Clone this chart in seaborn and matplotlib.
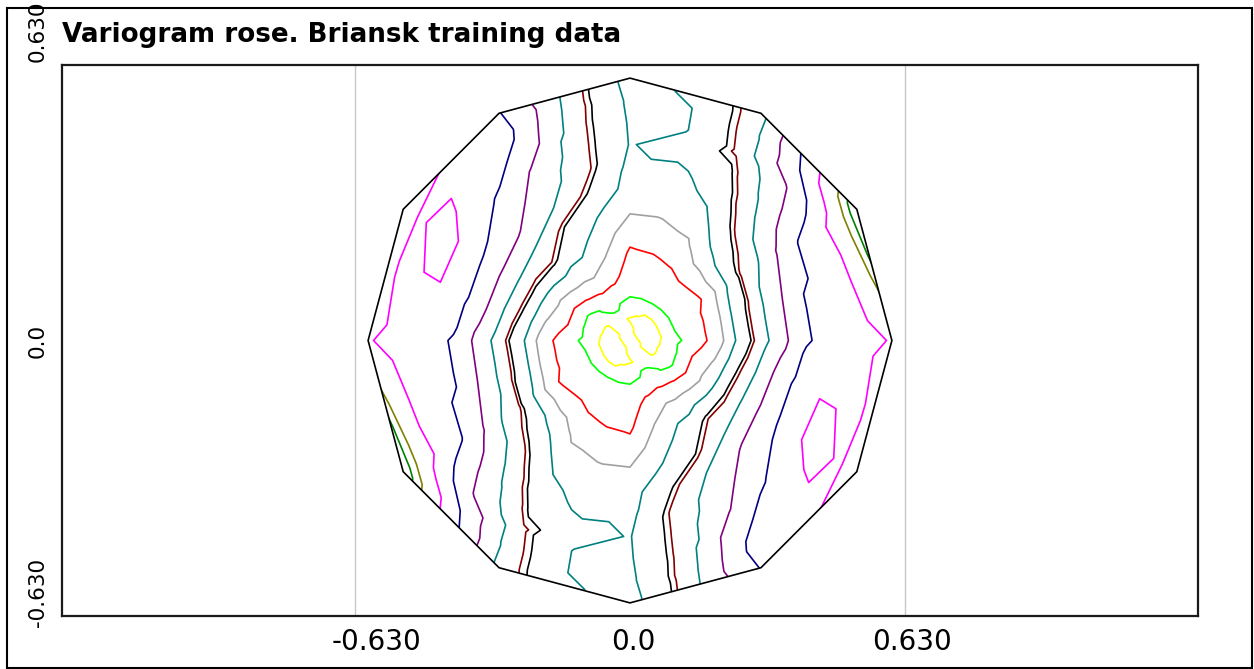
import numpy as np
import matplotlib
matplotlib.use("Agg")
import matplotlib.pyplot as plt
import matplotlib.tri as mtri
import matplotlib.transforms as mtrans
from matplotlib.patches import Polygon, Rectangle
import seaborn as sns

# ---------------------------------------------------------------
# Variogram rose: semivariance by direction (azimuth, degrees
# clockwise from north) and lag distance.  gamma(h) = gamma(-h),
# so each azimuth row also describes the opposite direction.
# Values are in relative semivariance units.
# ---------------------------------------------------------------
lags = [0.05, 0.10, 0.15, 0.20, 0.25, 0.30, 0.35, 0.40, 0.45, 0.50, 0.55, 0.60]
azimuths = [0, 15, 30, 45, 60, 75, 90, 105, 120, 135, 150, 165]

gamma_origin = 1.30
gamma_az000 = [0.95, 2.00, 2.43, 2.84, 3.43, 4.15, 4.60, 4.75, 4.95, 4.90, 4.80, 4.60]
gamma_az015 = [0.80, 2.02, 2.48, 2.94, 3.60, 4.13, 4.45, 4.72, 5.35, 4.95, 5.00, 5.10]
gamma_az030 = [0.45, 2.05, 2.58, 3.10, 3.76, 4.38, 4.97, 5.41, 5.85, 6.33, 6.55, 6.70]
gamma_az045 = [0.40, 2.00, 2.60, 3.35, 4.62, 5.59, 6.35, 6.94, 7.41, 7.88, 9.00, 9.68]
gamma_az060 = [0.40, 1.97, 2.50, 3.15, 4.86, 6.37, 7.15, 8.24, 9.11, 9.67, 10.57, 12.00]
gamma_az075 = [0.40, 1.95, 2.55, 3.50, 5.39, 6.66, 7.73, 8.90, 9.33, 9.70, 10.32, 12.00]
gamma_az090 = [0.55, 1.72, 2.48, 3.46, 5.29, 6.59, 7.70, 8.87, 9.25, 9.52, 9.85, 10.05]
gamma_az105 = [0.70, 1.71, 3.09, 4.13, 5.87, 7.10, 8.40, 9.32, 9.95, 9.90, 9.90, 10.50]
gamma_az120 = [0.75, 1.65, 3.08, 4.43, 6.05, 7.24, 8.36, 9.21, 9.97, 10.35, 9.90, 10.30]
gamma_az135 = [1.60, 2.08, 3.46, 4.76, 6.15, 6.90, 7.94, 8.55, 9.10, 9.55, 9.70, 10.05]
gamma_az150 = [1.70, 2.36, 3.67, 4.74, 5.42, 6.00, 7.00, 7.48, 7.93, 8.76, 9.15, 9.05]
gamma_az165 = [1.05, 2.32, 3.33, 3.93, 4.51, 5.12, 5.90, 6.40, 6.50, 6.60, 6.75, 6.85]

gamma_rows = [gamma_az000, gamma_az015, gamma_az030, gamma_az045,
              gamma_az060, gamma_az075, gamma_az090, gamma_az105,
              gamma_az120, gamma_az135, gamma_az150, gamma_az165]

# isolines and their colours
contour_levels = [1.0, 2.0, 3.0, 4.0, 5.0, 6.0, 6.2, 7.0, 8.0, 9.0, 10.0, 11.0, 11.5]
contour_colors = ["#FFFF00", "#00FF00", "#FF0000", "#A0A0A0", "#008080",
                  "#000000", "#800000", "#008080", "#800080", "#000080",
                  "#FF00FF", "#808000", "#008000"]

title = "Variogram rose. Briansk training data"
axis_extent = 0.63
tick_values = [-0.63, 0.0, 0.63]
tick_labels = ["-0.630", "0.0", "0.630"]
n_sectors = 12

# ---------------------------------------------------------------
sns.set_style("white")
plt.rcParams["font.family"] = ["DejaVu Sans"]
for key in ("text.color", "xtick.color", "ytick.color", "axes.labelcolor"):
    plt.rcParams[key] = "black"

W, H = 1254, 669
fig = plt.figure(figsize=(W / 100, H / 100), dpi=100)
ax = fig.add_axes([62 / W, 1 - 616 / H, 1136 / W, 551 / H])

# build the polar sample grid (both half-planes) and triangulate it
full_az = list(azimuths) + [a + 180 for a in azimuths]
full_rows = gamma_rows + gamma_rows
lag_arr = np.asarray(lags)
xs, ys, zs = [0.0], [0.0], [gamma_origin]
for az, row in zip(full_az, full_rows):
    t = np.deg2rad(az)
    xs.extend(lag_arr * np.sin(t))
    ys.extend(lag_arr * np.cos(t))
    zs.extend(row)
xs, ys, zs = map(np.asarray, (xs, ys, zs))

n_dir, n_lag = len(full_az), len(lags)


def idx(d, k):
    return 1 + d * n_lag + k


tris = []
for d in range(n_dir):
    dn = (d + 1) % n_dir
    tris.append((0, idx(d, 0), idx(dn, 0)))
    for k in range(n_lag - 1):
        tris.append((idx(d, k), idx(dn, k), idx(dn, k + 1)))
        tris.append((idx(d, k), idx(dn, k + 1), idx(d, k + 1)))
triang = mtri.Triangulation(xs, ys, np.asarray(tris))

# outline of the rose: polygon at the largest lag
rmax = lags[-1]
ang = np.deg2rad(np.arange(n_sectors) * 360.0 / n_sectors)
outline = Polygon(np.column_stack([rmax * np.sin(ang), rmax * np.cos(ang)]),
                  closed=True, fill=False, edgecolor="black", lw=1.2, zorder=4)
ax.add_patch(outline)

cs = ax.tricontour(triang, zs, levels=contour_levels, colors=contour_colors,
                   linewidths=1.2, zorder=3)
cs.set_clip_path(outline)

# square of the sampled area
for xv in (-axis_extent, axis_extent):
    ax.axvline(xv, color="#C8C8C8", lw=1.0, zorder=1)

half_w = axis_extent * 1136 / 550
ax.set_xlim(-half_w, half_w)
ax.set_ylim(-axis_extent, axis_extent)

for s in ax.spines.values():
    s.set_visible(True)
    s.set_color("#1a1a1a")
    s.set_linewidth(1.6)

ax.set_xticks(tick_values)
ax.set_xticklabels(tick_labels, fontsize=20)
ax.set_yticks(tick_values)
ax.set_yticklabels([])
ax.tick_params(axis="both", direction="out", length=4, width=2.5,
               color="black", pad=5)

# small horizontal shifts of the x labels (in pixels)
for lab, dx in zip(ax.get_xticklabels(), (22, 3, 7)):
    lab.set_transform(lab.get_transform() +
                      mtrans.ScaledTranslation(dx / 100, 0, fig.dpi_scale_trans))

# rotated y labels
ylab_tr = mtrans.blended_transform_factory(ax.transAxes, ax.transData)
xl = (38 - 62) / 1136
ax.text(xl, axis_extent + 0.006, tick_labels[2], rotation=90, ha="center",
        va="bottom", fontsize=15.5, transform=ylab_tr)
ax.text(xl, 0.0, tick_labels[1], rotation=90, ha="center", va="center",
        fontsize=15.5, transform=ylab_tr)
ax.text(xl, -0.577, tick_labels[0], rotation=90, ha="center", va="center",
        fontsize=15.5, transform=ylab_tr)

fig.text(62 / W, 1 - 42 / H, title, fontsize=18.8, fontweight="bold",
         ha="left", va="baseline")

# outer frame of the picture
fig.patches.append(Rectangle((7 / W, 1 / H), 1245 / W, 660 / H,
                             transform=fig.transFigure, fill=False,
                             edgecolor="black", lw=1.5))

fig.savefig("out.png", dpi=100)
